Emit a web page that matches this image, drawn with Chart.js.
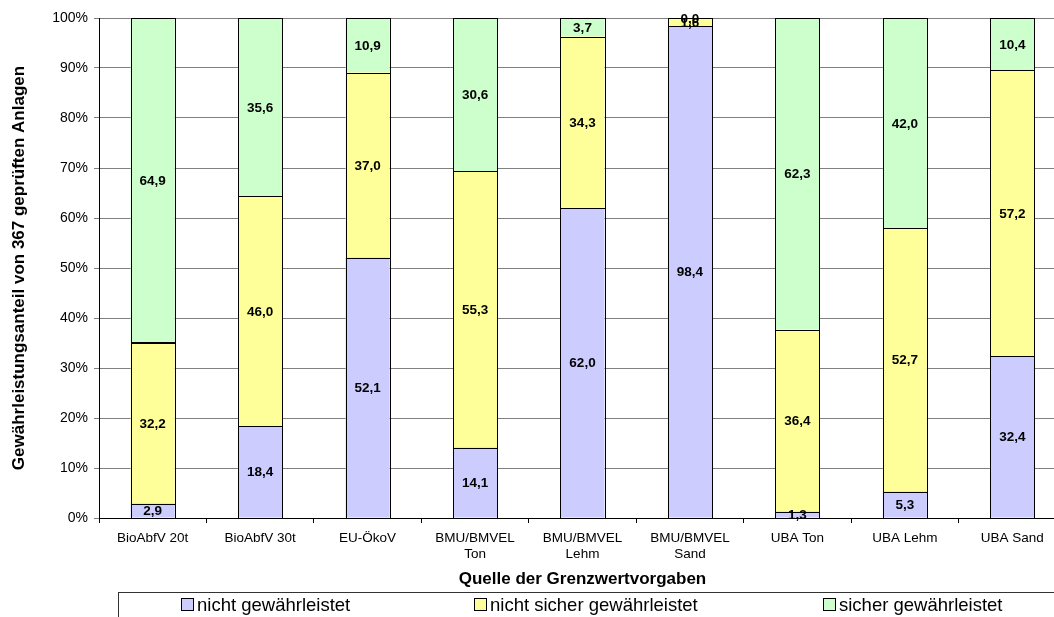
<!DOCTYPE html>
<html>
<head>
<meta charset="utf-8">
<script src="https://cdn.jsdelivr.net/npm/chart.js@4"></script>
<style>
  html, body { margin: 0; padding: 0; background: #fff; overflow: hidden; width: 1054px; height: 617px; }
  #wrap { position: relative; width: 1054px; height: 617px; }
  #chart { position: absolute; left: 0; top: 0; }
  #legend {
    position: absolute; left: 118px; top: 592px; width: 960px; height: 40px;
    border-left: 1px solid #333; border-top: 1px solid #333;
    font-family: Arial, "Liberation Sans", sans-serif; font-size: 18.5px; color: #000;
  }
  .item { position: absolute; top: 1px; white-space: nowrap; }
  .box { display: inline-block; width: 11px; height: 11px; border: 1px solid #000; margin-right: 3px; vertical-align: 0px; }
</style>
</head>
<body>
<div id="wrap">
  <canvas id="chart" width="1068" height="617"></canvas>
  <div id="legend"></div>
</div>
<script>
const categories = [
  'BioAbfV 20t', 'BioAbfV 30t', 'EU-ÖkoV', ['BMU/BMVEL', 'Ton'], ['BMU/BMVEL', 'Lehm'],
  ['BMU/BMVEL', 'Sand'], 'UBA Ton', 'UBA Lehm', 'UBA Sand'
];
const seriesNames = ['nicht gewährleistet', 'nicht sicher gewährleistet', 'sicher gewährleistet'];
const nichtGewaehrleistet = [2.9, 18.4, 52.1, 14.1, 62.0, 98.4, 1.3, 5.3, 32.4];
const nichtSicher = [32.2, 46.0, 37.0, 55.3, 34.3, 1.6, 36.4, 52.7, 57.2];
const sicher = [64.9, 35.6, 10.9, 30.6, 3.7, 0.0, 62.3, 42.0, 10.4];
const seriesColors = ['#CCCCFF', '#FFFF99', '#CCFFCC'];
const yTicks = [0, 10, 20, 30, 40, 50, 60, 70, 80, 90, 100];

const FONT = 'Arial, "Liberation Sans", sans-serif';

// crisp black outline round each segment, then the value in its middle
const segmentLabels = {
  id: 'segmentLabels',
  afterDatasetsDraw(chart) {
    const ctx = chart.ctx;
    ctx.save();
    ctx.strokeStyle = '#000';
    ctx.lineWidth = 1;
    chart.data.datasets.forEach((ds, i) => {
      chart.getDatasetMeta(i).data.forEach(bar => {
        const p = bar.getProps(['x', 'y', 'base', 'width'], true);
        const l = Math.round(p.x - p.width / 2) + 0.5;
        const r = Math.round(p.x + p.width / 2) + 0.5;
        const t = Math.round(p.y) + 0.5;
        const b = Math.round(p.base) + 0.5;
        ctx.strokeRect(l, t, r - l, b - t);
      });
    });
    ctx.font = 'bold 13.5px ' + FONT;
    ctx.fillStyle = '#000';
    ctx.textAlign = 'center';
    ctx.textBaseline = 'middle';
    chart.data.datasets.forEach((ds, i) => {
      chart.getDatasetMeta(i).data.forEach((bar, j) => {
        const p = bar.getProps(['x', 'y', 'base'], true);
        const txt = ds.data[j].toFixed(1).replace('.', ',');
        ctx.fillText(txt, p.x, (p.y + p.base) / 2 + 1);
      });
    });
    ctx.restore();
  }
};

const datasets = [nichtGewaehrleistet, nichtSicher, sicher].map((values, i) => ({
  label: seriesNames[i],
  data: values,
  backgroundColor: seriesColors[i],
  borderWidth: 0,
  inflateAmount: 0,
  barPercentage: 0.41,
  categoryPercentage: 1
}));

new Chart(document.getElementById('chart'), {
  type: 'bar',
  data: { labels: categories, datasets: datasets },
  options: {
    responsive: false,
    animation: false,
    devicePixelRatio: 1,
    layout: { padding: { top: 18, right: 2, bottom: 27, left: 0 } },
    plugins: {
      legend: { display: false },
      tooltip: { enabled: false }
    },
    scales: {
      x: {
        stacked: true,
        grid: { display: true, drawOnChartArea: false, offset: true, tickLength: 5, color: '#000' },
        border: { color: '#000' },
        ticks: { color: '#000', font: { family: FONT, size: 13.5, lineHeight: 1.2 }, padding: 7, maxRotation: 0, autoSkip: false },
        title: {
          display: true, text: 'Quelle der Grenzwertvorgaben', color: '#000',
          font: { family: FONT, size: 17, weight: 'bold' }, padding: { top: 0, bottom: 0 }
        },
        afterFit(scale) { scale.height = 72; }
      },
      y: {
        stacked: true,
        min: 0,
        max: 100,
        afterBuildTicks(scale) { scale.ticks = yTicks.map(v => ({ value: v })); },
        grid: { color: '#808080', tickLength: 5 },
        border: { color: '#000' },
        ticks: {
          color: '#000', font: { family: FONT, size: 14 }, padding: 6,
          callback: v => v + '%'
        },
        title: {
          display: true, text: 'Gewährleistungsanteil von 367 geprüften Anlagen', color: '#000',
          font: { family: FONT, size: 17, weight: 'bold' }, padding: { top: 9, bottom: 0 }
        },
        afterFit(scale) { scale.width = 99; }
      }
    }
  },
  plugins: [segmentLabels]
});

// legend row in a box, like the original
const legendPos = [62, 355, 704];
const legend = document.getElementById('legend');
seriesNames.forEach((name, i) => {
  const el = document.createElement('div');
  el.className = 'item';
  el.style.left = legendPos[i] + 'px';
  el.innerHTML = `<span class="box" style="background:${seriesColors[i]}"></span>${name}`;
  legend.appendChild(el);
});
</script>
</body>
</html>
